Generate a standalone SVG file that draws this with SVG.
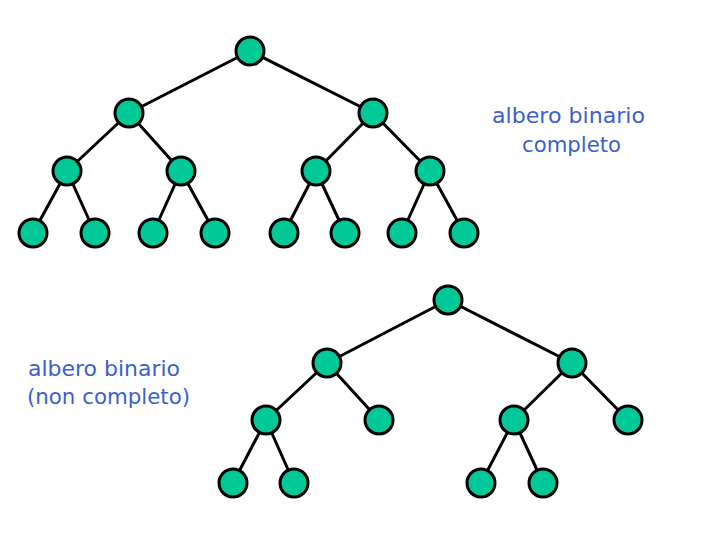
<svg xmlns="http://www.w3.org/2000/svg" width="720" height="540" viewBox="0 0 720 540">
<style>
.n{fill:#00c896;stroke:#000;stroke-width:3}
.e{stroke:#000;stroke-width:3;fill:none}
.t{font-family:"DejaVu Sans","Liberation Sans",sans-serif;font-size:22px;fill:#3b5fcf}
</style>
<rect width="720" height="540" fill="#fff"/>
<g id="connectors" class="e">
<path d="M250 51L129 113M250 51L373 113M129 113L67 171M129 113L181 171M373 113L316 171M373 113L430 171M67 171L33 233M67 171L95 233M181 171L153 233M181 171L215 233M316 171L284 233M316 171L345 233M430 171L402 233M430 171L464 233"/>
<path d="M448 300L327 363M448 300L572 363M327 363L266 420M327 363L379 420M572 363L514 420M572 363L628 420M266 420L233 483M266 420L294 483M514 420L481 483M514 420L543 483"/>
</g>
<g id="a0"><circle class="n" cx="250" cy="51" r="14"/></g>
<g id="a1"><circle class="n" cx="129" cy="113" r="14"/></g>
<g id="a2"><circle class="n" cx="373" cy="113" r="14"/></g>
<g id="a3"><circle class="n" cx="67" cy="171" r="14"/></g>
<g id="a4"><circle class="n" cx="181" cy="171" r="14"/></g>
<g id="a5"><circle class="n" cx="316" cy="171" r="14"/></g>
<g id="a6"><circle class="n" cx="430" cy="171" r="14"/></g>
<g id="a7"><circle class="n" cx="33" cy="233" r="14"/></g>
<g id="a8"><circle class="n" cx="95" cy="233" r="14"/></g>
<g id="a9"><circle class="n" cx="153" cy="233" r="14"/></g>
<g id="a10"><circle class="n" cx="215" cy="233" r="14"/></g>
<g id="a11"><circle class="n" cx="284" cy="233" r="14"/></g>
<g id="a12"><circle class="n" cx="345" cy="233" r="14"/></g>
<g id="a13"><circle class="n" cx="402" cy="233" r="14"/></g>
<g id="a14"><circle class="n" cx="464" cy="233" r="14"/></g>
<g id="b0"><circle class="n" cx="448" cy="300" r="14"/></g>
<g id="b1"><circle class="n" cx="327" cy="363" r="14"/></g>
<g id="b2"><circle class="n" cx="572" cy="363" r="14"/></g>
<g id="b3"><circle class="n" cx="266" cy="420" r="14"/></g>
<g id="b4"><circle class="n" cx="379" cy="420" r="14"/></g>
<g id="b5"><circle class="n" cx="514" cy="420" r="14"/></g>
<g id="b6"><circle class="n" cx="628" cy="420" r="14"/></g>
<g id="b7"><circle class="n" cx="233" cy="483" r="14"/></g>
<g id="b8"><circle class="n" cx="294" cy="483" r="14"/></g>
<g id="b9"><circle class="n" cx="481" cy="483" r="14"/></g>
<g id="b10"><circle class="n" cx="543" cy="483" r="14"/></g>
<g id="label-complete">
<text class="t" x="492" y="123" textLength="153" lengthAdjust="spacingAndGlyphs">albero binario</text>
<text class="t" x="522" y="152" textLength="99" lengthAdjust="spacingAndGlyphs">completo</text>
</g>
<g id="label-incomplete">
<text class="t" x="28" y="376" textLength="152" lengthAdjust="spacingAndGlyphs">albero binario</text>
<text class="t" x="27" y="404" textLength="163" lengthAdjust="spacingAndGlyphs">(non completo)</text>
</g>
</svg>
